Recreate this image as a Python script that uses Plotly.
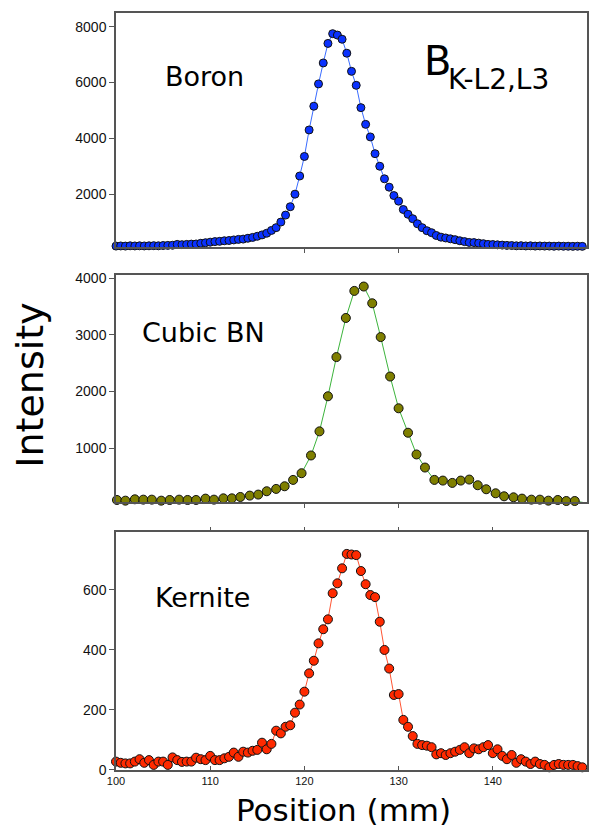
import plotly.graph_objects as go

# ---------------- data ----------------
position_fine = [
    100.0, 100.5, 101.0, 101.5, 102.0, 102.5, 103.0, 103.5, 104.0, 104.5,
    105.0, 105.5, 106.0, 106.5, 107.0, 107.5, 108.0, 108.5, 109.0, 109.5,
    110.0, 110.5, 111.0, 111.5, 112.0, 112.5, 113.0, 113.5, 114.0, 114.5,
    115.0, 115.5, 116.0, 116.5, 117.0, 117.5, 118.0, 118.5, 119.0, 119.5,
    120.0, 120.5, 121.0, 121.5, 122.0, 122.5, 123.0, 123.5, 124.0, 124.5,
    125.0, 125.5, 126.0, 126.5, 127.0, 127.5, 128.0, 128.5, 129.0, 129.5,
    130.0, 130.5, 131.0, 131.5, 132.0, 132.5, 133.0, 133.5, 134.0, 134.5,
    135.0, 135.5, 136.0, 136.5, 137.0, 137.5, 138.0, 138.5, 139.0, 139.5,
    140.0, 140.5, 141.0, 141.5, 142.0, 142.5, 143.0, 143.5, 144.0, 144.5,
    145.0, 145.5, 146.0, 146.5, 147.0, 147.5, 148.0, 148.5, 149.0, 149.5,
]

boron_intensity = [
    140, 145, 140, 150, 145, 150, 145, 150, 155, 150,
    160, 165, 170, 200, 190, 200, 210, 215, 240, 260,
    280, 300, 310, 330, 340, 360, 380, 390, 420, 450,
    490, 540, 600, 700, 800, 1000, 1250, 1550, 2000, 2650,
    3350, 4300, 5150, 5950, 6700, 7400, 7750, 7700, 7550, 7050,
    6400, 5900, 5100, 4500, 4050, 3450, 3000, 2550, 2250, 1950,
    1750, 1450, 1280, 1120, 940, 800, 690, 620, 520, 460,
    430, 400, 370, 330, 300, 270, 265, 245, 225, 200,
    195, 185, 175, 165, 160, 150, 155, 145, 150, 140,
    145, 140, 140, 135, 140, 135, 135, 130, 135, 130,
]

kernite_intensity = [
    28, 24, 22, 22, 28, 36, 24, 33, 17, 28,
    28, 17, 42, 33, 27, 28, 28, 41, 36, 33,
    47, 33, 33, 39, 44, 58, 44, 61, 58, 64,
    67, 91, 69, 87, 131, 122, 144, 149, 191, 218,
    261, 322, 364, 422, 469, 502, 589, 622, 672, 720,
    718, 716, 663, 619, 583, 576, 494, 400, 338, 250,
    253, 167, 144, 113, 87, 83, 81, 76, 52, 56,
    50, 56, 61, 67, 76, 56, 72, 69, 76, 83,
    56, 69, 47, 36, 50, 24, 36, 28, 20, 28,
    20, 17, 9, 17, 20, 17, 17, 17, 13, 9,
]

position_cbn = [
    100.1, 101.0, 102.0, 102.9, 103.8, 104.8, 105.7, 106.7, 107.6, 108.5,
    109.5, 110.4, 111.4, 112.3, 113.2, 114.2, 115.1, 116.0, 117.0, 117.9,
    118.8, 119.7, 120.7, 121.6, 122.5, 123.4, 124.4, 125.3, 126.3, 127.2,
    128.1, 129.1, 130.0, 131.0, 131.9, 132.8, 133.8, 134.7, 135.7, 136.6,
    137.5, 138.4, 139.3, 140.3, 141.2, 142.2, 143.1, 144.1, 145.0, 145.9,
    146.9, 147.8, 148.7, 149.7,
]

cbn_intensity = [
    86, 74, 98, 92, 92, 74, 86, 92, 86, 86,
    110, 92, 115, 115, 139, 163, 181, 240, 281, 328,
    440, 558, 871, 1296, 1915, 2606, 3296, 3773, 3850, 3555,
    2959, 2263, 1703, 1272, 889, 658, 440, 428, 387, 428,
    446, 346, 275, 204, 151, 133, 110, 92, 92, 74,
    86, 68, 68, 39,
]

boron_ticks = [2000, 4000, 6000, 8000]
cbn_ticks = [1000, 2000, 3000, 4000]
kernite_ticks = [0, 200, 400, 600]
position_ticks = [100, 110, 120, 130, 140, 150]

panel_labels = ["Boron", "Cubic BN", "Kernite"]

# ---------------- styling ----------------
AX = "#555555"
TICKFONT = dict(family="Liberation Sans, Arial, sans-serif", size=14, color="#111111")
TXT = "DejaVu Sans, Verdana, sans-serif"

fig = go.Figure()

fig.add_trace(go.Scatter(
    x=position_fine, y=boron_intensity, xaxis="x", yaxis="y",
    mode="lines+markers", cliponaxis=False,
    line=dict(color="#3a6cff", width=1),
    marker=dict(color="#0a32ff", size=8, line=dict(color="#111111", width=1)),
    showlegend=False,
))
fig.add_trace(go.Scatter(
    x=position_cbn, y=cbn_intensity, xaxis="x2", yaxis="y2",
    mode="lines+markers", cliponaxis=False,
    line=dict(color="#3cb43c", width=1),
    marker=dict(color="#7f7f00", size=9, line=dict(color="#111111", width=1)),
    showlegend=False,
))
fig.add_trace(go.Scatter(
    x=position_fine, y=kernite_intensity, xaxis="x3", yaxis="y3",
    mode="lines+markers", cliponaxis=False,
    line=dict(color="#ff5533", width=1),
    marker=dict(color="#ff2a00", size=9, line=dict(color="#111111", width=1)),
    showlegend=False,
))

common_x = dict(range=[100, 150], showgrid=False, zeroline=False,
                showline=True, linecolor=AX, linewidth=1.5, mirror=True)
common_y = dict(showgrid=False, zeroline=False, showline=True, linecolor=AX,
                linewidth=1.5, mirror=True, ticks="outside", ticklen=5,
                tickcolor=AX, tickfont=TICKFONT)

fig.update_layout(
    width=595, height=829,
    margin=dict(l=116, r=6, t=13, b=59),
    paper_bgcolor="white", plot_bgcolor="white",
    xaxis=dict(**common_x, domain=[0, 1], anchor="y", tickvals=[120, 130],
               ticks="outside", ticklen=4, tickcolor=AX, showticklabels=False),
    yaxis=dict(**common_y, domain=[0.691, 1], anchor="x", range=[110, 8490],
               tickvals=boron_ticks),
    xaxis2=dict(**common_x, domain=[0, 1], anchor="y2", tickvals=[120, 130],
                ticks="outside", ticklen=4, tickcolor=AX, showticklabels=False),
    yaxis2=dict(**common_y, domain=[0.354, 0.654], anchor="x2", range=[50, 4055],
                tickvals=cbn_ticks),
    xaxis3=dict(**common_x, domain=[0, 1], anchor="y3", tickvals=position_ticks,
                ticks="inside", ticklen=4, tickcolor=AX,
                tickfont=dict(family="Liberation Sans, Arial, sans-serif", size=11, color="#111111")),
    xaxis4=dict(range=[100, 150], overlaying="x3", anchor="y3", side="top",
                showgrid=False, zeroline=False, showline=False,
                tickvals=[110, 120, 130, 140], ticks="outside", ticklen=4,
                tickcolor=AX, showticklabels=False),
    yaxis3=dict(**common_y, domain=[0, 0.3144], anchor="x3", range=[0, 793],
                tickvals=kernite_ticks),
)

# empty trace that activates the top tick axis of the bottom panel
fig.add_trace(go.Scatter(x=[], y=[], xaxis="x4", yaxis="y3", showlegend=False))

annotations = [
    dict(text=panel_labels[0], x=0.0994, y=0.9155, xanchor="left", yanchor="middle",
         font=dict(family=TXT, size=27, color="#000")),
    dict(text=panel_labels[1], x=0.0507, y=0.5773, xanchor="left", yanchor="middle",
         font=dict(family=TXT, size=27, color="#000")),
    dict(text=panel_labels[2], x=0.0782, y=0.2285, xanchor="left", yanchor="middle",
         font=dict(family=TXT, size=27, color="#000")),
    dict(text="B", x=0.649, y=0.937, xanchor="left", yanchor="middle",
         font=dict(family=TXT, size=40, color="#000")),
    dict(text="K-L2,L3", x=0.700, y=0.9115, xanchor="left", yanchor="middle",
         font=dict(family=TXT, size=28, color="#000")),
    dict(text="Intensity", x=-0.182, y=0.508, xanchor="center", yanchor="middle",
         textangle=-90, font=dict(family=TXT, size=38, color="#000")),
    dict(text="Position (mm)", x=0.484, y=-0.0528, xanchor="center", yanchor="middle",
         font=dict(family=TXT, size=31, color="#000")),
]
for a in annotations:
    a.update(xref="paper", yref="paper", showarrow=False)
fig.update_layout(annotations=annotations)

fig.write_html("out.html",
               config={"displayModeBar": False},
               post_script="document.body.style.margin='0px';document.body.style.padding='0px';")
